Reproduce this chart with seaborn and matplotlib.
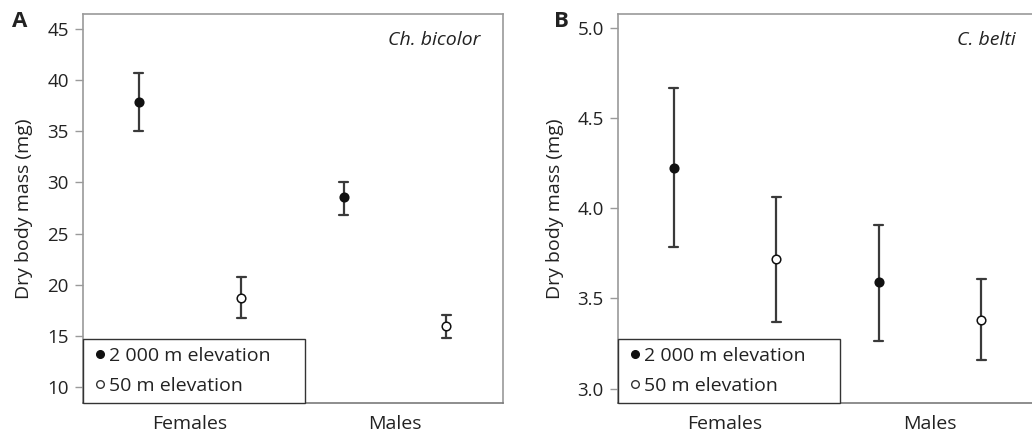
import numpy as np
import pandas as pd
import matplotlib
matplotlib.use("Agg")
import matplotlib.pyplot as plt
from matplotlib.lines import Line2D
import seaborn as sns

# ---------------- data ----------------
sexes = ["Females", "Males"]
elevations = ["2 000 m elevation", "50 m elevation"]

# Panel A: Ch. bicolor (mg)
a_mean_2000 = [37.9, 28.55]
a_low_2000 = [35.05, 26.85]
a_high_2000 = [40.65, 30.05]
a_mean_50 = [18.75, 15.95]
a_low_50 = [16.75, 14.8]
a_high_50 = [20.8, 17.05]

# Panel B: C. belti (mg)
b_mean_2000 = [4.225, 3.59]
b_low_2000 = [3.785, 3.265]
b_high_2000 = [4.665, 3.905]
b_mean_50 = [3.72, 3.38]
b_low_50 = [3.37, 3.16]
b_high_50 = [4.065, 3.61]

a_ticks = [10, 15, 20, 25, 30, 35, 40, 45]
b_ticks = [3.0, 3.5, 4.0, 4.5, 5.0]


def long_table(m2000, l2000, h2000, m50, l50, h50):
    rows = []
    for i, s in enumerate(sexes):
        for v in (l2000[i], m2000[i], h2000[i]):
            rows.append((s, elevations[0], v))
        for v in (l50[i], m50[i], h50[i]):
            rows.append((s, elevations[1], v))
    return pd.DataFrame(rows, columns=["sex", "elev", "mass"])


df_a = long_table(a_mean_2000, a_low_2000, a_high_2000, a_mean_50, a_low_50, a_high_50)
df_b = long_table(b_mean_2000, b_low_2000, b_high_2000, b_mean_50, b_low_50, b_high_50)

# ---------------- style ----------------
sns.set_theme(style="white")
plt.rcParams["font.family"] = ["Open Sans", "DejaVu Sans"]
plt.rcParams["text.color"] = "#222222"
plt.rcParams["axes.labelcolor"] = "#222222"
plt.rcParams["xtick.color"] = "#222222"
plt.rcParams["ytick.color"] = "#222222"

W, H = 1032, 434
fig = plt.figure(figsize=(W / 100, H / 100), dpi=100)

ax_w = 420 / W
ax_h = 388.7 / H
bottom = (H - 402.7) / H
ax_a = fig.add_axes([82.7 / W, bottom, ax_w, ax_h])
ax_b = fig.add_axes([617.7 / W, bottom, ax_w, ax_h])

spine_col = "#9a9a9a"
err_col = "#3a3a3a"


def draw(ax, df, ylim, ticks, fmt, title, letter, letter_x):
    sns.pointplot(
        data=df, x="sex", y="mass", hue="elev",
        order=sexes, hue_order=elevations,
        estimator="median", errorbar=("pi", 100),
        dodge=0.5, markers=["o", "o"], linestyles=["none", "none"],
        palette=["#111111", "#222222"], capsize=0.045,
        err_kws={"color": err_col, "linewidth": 1.6},
        markersize=6.2, legend=False, ax=ax,
    )
    mlines = [ln for ln in ax.lines if ln.get_marker() == "o"]
    for k, ln in enumerate(mlines):
        ln.set_zorder(4)
        ln.set_markeredgecolor("#111111")
        ln.set_markeredgewidth(1.1)
        if k == 1:
            ln.set_markerfacecolor("white")
    ax.set_xlim(-0.523, 1.525)
    ax.set_ylim(*ylim)
    ax.set_yticks(ticks)
    ax.set_yticklabels([fmt.format(t) for t in ticks])
    ax.set_xlabel("")
    ax.set_ylabel("Dry body mass (mg)", fontsize=14, labelpad=10)
    ax.tick_params(axis="y", length=6, width=1.0, color=spine_col,
                   labelsize=13.5, pad=4, left=True)
    ax.tick_params(axis="x", length=0, labelsize=14, pad=9)
    for sp in ax.spines.values():
        sp.set_color(spine_col)
        sp.set_linewidth(1.2)
    ax.spines["bottom"].set_color("#7a7a7a")
    ax.text(1 - 22 / 420, 1 - 17 / 388.7, title, transform=ax.transAxes,
            ha="right", va="top", fontsize=14, style="italic")
    fig.text(letter_x / W, 1 - 11 / H, letter, ha="left", va="top",
             fontsize=16, fontweight="bold")
    handles = [
        Line2D([], [], linestyle="none", marker="o", markersize=5.5,
               markerfacecolor="#111111", markeredgecolor="#111111"),
        Line2D([], [], linestyle="none", marker="o", markersize=5.5,
               markerfacecolor="white", markeredgecolor="#333333",
               markeredgewidth=1.0),
    ]
    leg = ax.legend(handles, elevations, loc="lower left",
                    bbox_to_anchor=(0, 0, 222 / 420, 1), mode="expand",
                    borderaxespad=0, fontsize=14, frameon=True, fancybox=False,
                    handlelength=0.95, handletextpad=0.0, labelspacing=0.6,
                    borderpad=0.42, framealpha=1)
    leg.get_frame().set_edgecolor("#333333")
    leg.get_frame().set_linewidth(1.0)


draw(ax_a, df_a, (8.5, 46.45), a_ticks, "{:.0f}", "Ch. bicolor", "A", 12)
draw(ax_b, df_b, (2.922, 5.078), b_ticks, "{:.1f}", "C. belti", "B", 554)

fig.savefig("out.png", dpi=100)
